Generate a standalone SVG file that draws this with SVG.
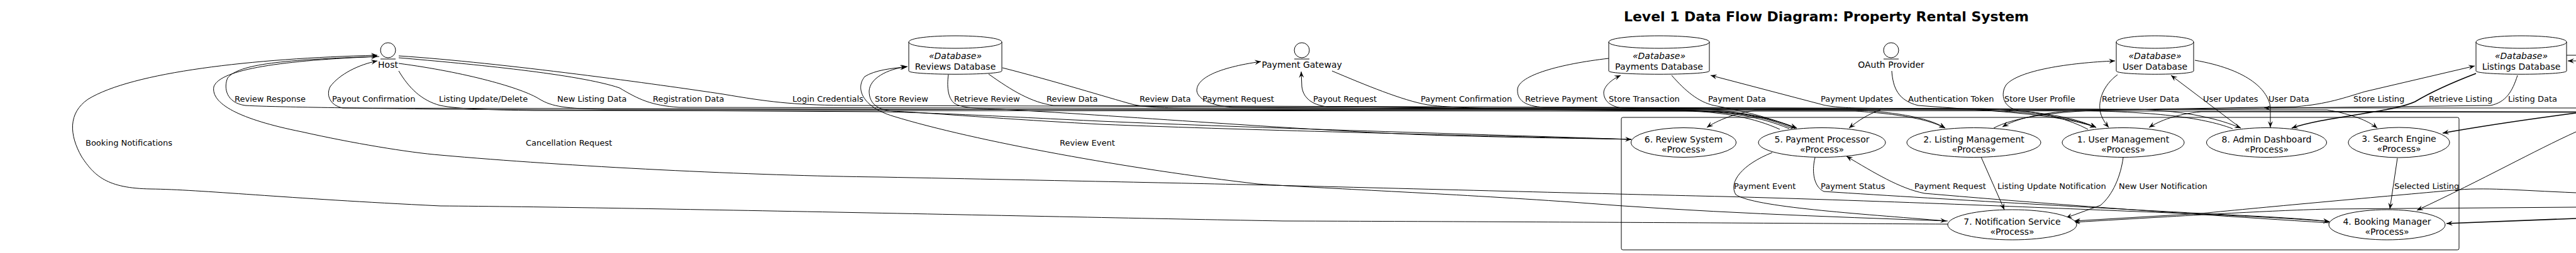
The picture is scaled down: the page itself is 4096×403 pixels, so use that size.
<svg xmlns="http://www.w3.org/2000/svg" width="4096" height="403" viewBox="0 0 4096 403">
<style>
.n{fill:#fff;stroke:#000;stroke-width:1}
.t{font-family:"DejaVu Sans",sans-serif;font-size:14px;text-anchor:middle;fill:#000}
.i{font-style:italic}
.l{font-family:"DejaVu Sans",sans-serif;font-size:13px;fill:#000}
.e{fill:none;stroke:#000;stroke-width:1;marker-end:url(#ah)}
.p{fill:none;stroke:#000;stroke-width:1}
.k{stroke-width:1.6}
</style>
<defs>
<marker id="ah" viewBox="0 0 10 8" refX="10" refY="4" markerWidth="10" markerHeight="8" orient="auto" markerUnits="userSpaceOnUse"><path d="M0,0 L10,4 L0,8 L4,4 Z" fill="#000"/></marker>
</defs>
<rect width="4096" height="403" fill="#fff"/>
<text x="2904" y="34" font-family="DejaVu Sans, sans-serif" font-size="22" font-weight="bold" text-anchor="middle" textLength="644">Level 1 Data Flow Diagram: Property Rental System</text>

<g id="system-boundary"><rect class="p" x="2578" y="187" width="1332" height="211" rx="2.5"/></g>

<g id="connectors">
<g id="edge-labels">
<text class="l" x="373" y="162">Review Response</text>
<text class="l" x="528" y="162">Payout Confirmation</text>
<text class="l" x="698" y="162">Listing Update/Delete</text>
<text class="l" x="886" y="162">New Listing Data</text>
<text class="l" x="1038" y="162">Registration Data</text>
<text class="l" x="1260" y="162">Login Credentials</text>
<text class="l" x="1391" y="162">Store Review</text>
<text class="l" x="1517" y="162">Retrieve Review</text>
<text class="l" x="1664" y="162">Review Data</text>
<text class="l" x="1812" y="162">Review Data</text>
<text class="l" x="1912" y="162">Payment Request</text>
<text class="l" x="2088" y="162">Payout Request</text>
<text class="l" x="2259" y="162">Payment Confirmation</text>
<text class="l" x="2425" y="162">Retrieve Payment</text>
<text class="l" x="2558" y="162">Store Transaction</text>
<text class="l" x="2716" y="162">Payment Data</text>
<text class="l" x="2895" y="162">Payment Updates</text>
<text class="l" x="3034" y="162">Authentication Token</text>
<text class="l" x="3187" y="162">Store User Profile</text>
<text class="l" x="3342" y="162">Retrieve User Data</text>
<text class="l" x="3503" y="162">User Updates</text>
<text class="l" x="3607" y="162">User Data</text>
<text class="l" x="3742" y="162">Store Listing</text>
<text class="l" x="3862" y="162">Retrieve Listing</text>
<text class="l" x="3988" y="162">Listing Data</text>
<text class="l" x="136" y="232">Booking Notifications</text>
<text class="l" x="836" y="232">Cancellation Request</text>
<text class="l" x="1685" y="232">Review Event</text>
<text class="l" x="2757" y="301">Payment Event</text>
<text class="l" x="2895" y="301">Payment Status</text>
<text class="l" x="3044" y="301">Payment Request</text>
<text class="l" x="3176" y="301">Listing Update Notification</text>
<text class="l" x="3369" y="301">New User Notification</text>
<text class="l" x="3807" y="301">Selected Listing</text>
</g>
<!-- Host -->
<path class="e" d="M634,89 C800,100 1050,135 1150,150 C1220,162 1260,167 1340,168 L3150,173 C3250,177 3300,188 3333,203"/>
<path class="e" d="M634,92 C750,102 920,118 985,140 C1015,158 1035,168 1080,171 L3150,175 C3250,179 3300,190 3333,203"/>
<path class="e" d="M634,101 C740,115 830,140 858,158 C878,170 900,173 960,174 L2950,175 C3030,180 3070,190 3093,204"/>
<path class="e" d="M634,113 C650,140 670,160 700,168 C730,174 780,175 850,176 L2950,177 C3030,182 3070,192 3093,204"/>
<path class="e" d="M2594,222 C2350,214 2000,204 1750,193 C1600,186 1500,180 1400,178 L700,174 C550,172 420,170 390,168 C360,164 355,140 362,124 C380,102 450,95 600,90"/>
<path class="e" d="M2830,206 C2790,188 2740,178 2680,177 L545,172 C525,168 518,152 525,138 C540,118 570,103 600,97"/>
<path class="e" d="M3097,357 C2900,356 2400,353 2040,352 C1700,346 1000,330 700,328 C450,316 320,302 240,301 C170,300 150,280 130,250 C110,215 108,180 140,158 C210,115 400,93 600,88"/>
<path class="e" d="M603,90 C450,96 350,110 340,138 C335,165 380,190 480,210 C560,228 650,243 700,247 C900,265 1200,280 1400,282 C1700,288 1900,292 2060,296 C2300,302 2600,310 2740,313 C3000,320 3300,333 3400,337 C3550,343 3650,348 3704,353"/>
<!-- Reviews -->
<path class="e" d="M3097,352 C2900,345 2700,338 2500,322 C2300,308 2100,300 2000,293 C1800,270 1550,225 1420,185 C1370,170 1360,140 1375,122 C1390,112 1420,108 1441,107"/>
<path class="e" d="M2594,222 C2350,216 2000,208 1750,198 C1600,190 1480,180 1420,177 C1395,175 1382,165 1382,145 C1383,125 1410,110 1443,106"/>
<path class="e" d="M1508,119 C1505,140 1508,160 1520,166 C1530,171 1550,173 1590,174 C1750,182 2100,210 2300,216 C2450,220 2550,221 2594,222"/>
<path class="e" d="M1572,118 C1610,145 1640,163 1675,168 L3400,174 C3480,177 3530,190 3563,204"/>
<path class="e" d="M1594,108 C1680,130 1760,155 1800,166 C1820,171 1850,172 1900,172 L3700,175 C3740,182 3765,192 3780,204"/>
<!-- Payments -->
<path class="e" d="M2845,205 C2800,186 2750,178 2680,176 L1960,171 C1925,168 1905,158 1903,145 C1902,125 1935,108 2005,98"/>
<path class="e" d="M2850,205 C2810,186 2760,178 2690,176 L2110,170 C2085,167 2072,155 2070,138 L2069,114"/>
<path class="e" d="M2118,113 C2170,135 2230,160 2270,167 C2310,172 2360,173 2420,173 L2700,173 C2780,178 2820,190 2857,204"/>
<path class="e" d="M2855,205 C2820,188 2770,178 2700,176 L2580,172 C2560,170 2550,160 2550,147 C2551,137 2562,127 2577,120"/>
<path class="e" d="M2558,93 C2480,102 2415,120 2413,142 C2412,160 2425,169 2455,171 L2990,175 C2970,182 2955,192 2940,204"/>
<path class="e" d="M2658,120 C2680,145 2700,162 2725,168 C2780,178 2820,190 2857,204"/>
<path class="e" d="M3550,205 C3500,186 3420,178 3300,176 L2950,172 C2920,171 2905,169 2895,166 L2720,120"/>
<!-- Users -->
<path class="e" d="M3008,113 C3010,140 3018,160 3050,168 C3150,176 3270,180 3333,203"/>
<path class="e" d="M3320,206 C3290,190 3250,180 3210,176 C3185,172 3180,150 3190,135 C3210,112 3290,100 3363,97"/>
<path class="e" d="M3367,119 C3345,135 3335,160 3340,180 C3343,190 3348,197 3353,203"/>
<path class="e" d="M3563,204 L3452,120"/>
<path class="e" d="M3490,96 C3570,110 3605,140 3610,170 L3610,203"/>
<!-- Listings -->
<path class="e" d="M3170,204 C3200,188 3260,178 3350,175 L3650,170 C3700,166 3730,155 3760,146 L3935,105"/>
<path class="e k" d="M3937,117 C3890,135 3860,150 3840,162 C3800,180 3700,185 3644,204"/>
<path class="e" d="M4003,120 C3995,145 3985,163 3960,168 L3300,176 C3240,180 3205,190 3184,202"/>
<!-- lower flows -->
<path class="e" d="M2818,243 C2770,262 2748,290 2760,310 C2790,330 2950,340 3095,352"/>
<path class="e" d="M2886,251 C2880,275 2885,298 2900,305 C3100,318 3400,335 3600,345 C3650,348 3680,350 3704,353"/>
<path class="e" d="M3704,355 C3400,336 3200,320 3060,308 C3020,300 2980,275 2936,249"/>
<path class="e" d="M3150,250 L3187,334"/>
<path class="e" d="M3376,251 C3372,280 3360,310 3340,327 L3285,347"/>
<path class="e" d="M3812,252 L3800,333"/>
<!-- from right edge -->
<path class="e" d="M4096,178 L2790,176 C2760,180 2730,192 2714,203"/>
<path class="e" d="M4096,179 L3500,178 C3460,182 3435,192 3417,203"/>
<path class="e" d="M4096,172 L3600,172"/>
<path class="e k" d="M4096,180 C4020,190 3940,202 3884,212"/>
<path class="e" d="M4096,210 C4030,240 3950,285 3843,335"/>
<path class="e k" d="M4096,348 L3890,356"/>
<path class="e" d="M4096,307 C4000,303 3950,298 3900,303 C3800,312 3600,330 3500,340 L3298,352"/>
<path class="e" d="M4096,330 L3700,333 C3600,336 3500,342 3298,354"/>
<path class="e" d="M4096,97 L4083,97"/>
<path class="p" d="M4081,88 L4096,88"/>
</g>

<g id="host"><circle class="n" cx="617" cy="80" r="12"/><line class="p" x1="605" y1="94" x2="629" y2="94"/><text class="t" x="617" y="108">Host</text></g>
<g id="payment-gateway"><circle class="n" cx="2070" cy="80" r="12"/><line class="p" x1="2058" y1="94" x2="2082" y2="94"/><text class="t" x="2070" y="108">Payment Gateway</text></g>
<g id="oauth-provider"><circle class="n" cx="3007" cy="80" r="12"/><line class="p" x1="2995" y1="94" x2="3019" y2="94"/><text class="t" x="3007" y="108">OAuth Provider</text></g>

<g id="reviews-db"><path class="n" d="M1445,67 C1445,53.7 1593,53.7 1593,67 L1593,113 C1593,120 1445,120 1445,113 Z"/><path class="p" d="M1445,67 C1445,80.3 1593,80.3 1593,67"/><text class="t i" x="1519" y="94">«Database»</text><text class="t" x="1519" y="111">Reviews Database</text></g>
<g id="payments-db"><path class="n" d="M2558,67 C2558,53.7 2718,53.7 2718,67 L2718,113 C2718,120 2558,120 2558,113 Z"/><path class="p" d="M2558,67 C2558,80.3 2718,80.3 2718,67"/><text class="t i" x="2638" y="94">«Database»</text><text class="t" x="2638" y="111">Payments Database</text></g>
<g id="user-db"><path class="n" d="M3365,67 C3365,53.7 3488,53.7 3488,67 L3488,113 C3488,120 3365,120 3365,113 Z"/><path class="p" d="M3365,67 C3365,80.3 3488,80.3 3488,67"/><text class="t i" x="3426.5" y="94">«Database»</text><text class="t" x="3426.5" y="111">User Database</text></g>
<g id="listings-db"><path class="n" d="M3937,67 C3937,53.7 4081,53.7 4081,67 L4081,113 C4081,120 3937,120 3937,113 Z"/><path class="p" d="M3937,67 C3937,80.3 4081,80.3 4081,67"/><text class="t i" x="4009" y="94">«Database»</text><text class="t" x="4009" y="111">Listings Database</text></g>

<g id="p6"><ellipse class="n" cx="2677" cy="227" rx="83.5" ry="23.5"/><text class="t" x="2677" y="227">6. Review System</text><text class="t" x="2677" y="243">«Process»</text></g>
<g id="p5"><ellipse class="n" cx="2897" cy="227" rx="101" ry="23.5"/><text class="t" x="2897" y="227">5. Payment Processor</text><text class="t" x="2897" y="243">«Process»</text></g>
<g id="p2"><ellipse class="n" cx="3138.5" cy="227" rx="106.5" ry="23.5"/><text class="t" x="3138.5" y="227">2. Listing Management</text><text class="t" x="3138.5" y="243">«Process»</text></g>
<g id="p1"><ellipse class="n" cx="3376" cy="227" rx="97" ry="23.5"/><text class="t" x="3376" y="227">1. User Management</text><text class="t" x="3376" y="243">«Process»</text></g>
<g id="p8"><ellipse class="n" cx="3604" cy="227" rx="95.5" ry="23.5"/><text class="t" x="3604" y="227">8. Admin Dashboard</text><text class="t" x="3604" y="243">«Process»</text></g>
<g id="p3"><ellipse class="n" cx="3814.5" cy="227" rx="80.5" ry="24"/><text class="t" x="3814.5" y="226">3. Search Engine</text><text class="t" x="3814.5" y="242">«Process»</text></g>
<g id="p4"><ellipse class="n" cx="3795.5" cy="358" rx="92.5" ry="24"/><text class="t" x="3795.5" y="358">4. Booking Manager</text><text class="t" x="3795.5" y="374">«Process»</text></g>
<g id="p7"><ellipse class="n" cx="3199.5" cy="358" rx="102.5" ry="24"/><text class="t" x="3199.5" y="358">7. Notification Service</text><text class="t" x="3199.5" y="374">«Process»</text></g>
</svg>
